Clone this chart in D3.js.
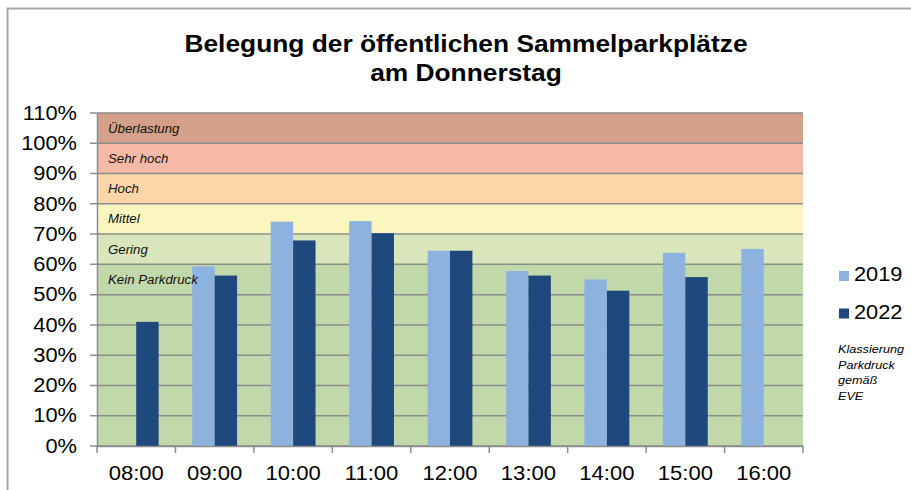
<!DOCTYPE html>
<html>
<head>
<meta charset="utf-8">
<script src="https://cdn.jsdelivr.net/npm/d3@7"></script>
<style>
  body { margin: 0; background: #fff; }
  svg { display: block; font-family: "Liberation Sans", Arial, sans-serif; }
</style>
</head>
<body>
<svg id="chart"></svg>
<script>
// DATEN
const hours = ["08:00", "09:00", "10:00", "11:00", "12:00", "13:00", "14:00", "15:00", "16:00"];
const years = ["2019", "2022"];
const values2019 = [null, 59.3, 74.1, 74.3, 64.5, 57.8, 55.0, 63.8, 65.1];
const values2022 = [41.0, 56.3, 67.9, 70.3, 64.5, 56.3, 51.3, 55.8, null];
const yTicks = [0, 10, 20, 30, 40, 50, 60, 70, 80, 90, 100, 110];
// Klassierung Parkdruck (Bereiche)
const zoneNames = ["Kein Parkdruck", "Gering", "Mittel", "Hoch", "Sehr hoch", "Überlastung"];
const zoneFrom = [0, 60, 70, 80, 90, 100];
const zoneTo = [60, 70, 80, 90, 100, 110];
const noteLines = ["Klassierung", "Parkdruck", "gemäß", "EVE"];
const titleLines = ["Belegung der öffentlichen Sammelparkplätze", "am Donnerstag"];

const width = 911;
const height = 490;
const margin = { top: 113, right: 108, bottom: 44, left: 97 };

const zoneColors = ["#c1d8ab", "#d9e6bb", "#fbf6c0", "#fcd5a8", "#f6b9a7", "#d4a089"];
const barColors = ["#8eb2de", "#1f497d"];

// Schrift im Original ist etwas breiter gezogen
function stretch(sel, k) {
  sel.each(function() {
    const w = this.getComputedTextLength();
    d3.select(this).attr("textLength", w * k).attr("lengthAdjust", "spacingAndGlyphs");
  });
}

const svg = d3.select("#chart")
  .attr("width", width)
  .attr("height", height);

// Rahmen
svg.append("path")
  .attr("d", `M7.5,${height} V8.5 H${width}`)
  .attr("fill", "none")
  .attr("stroke", "#a6a6a6")
  .attr("stroke-width", 2);

// TITEL
svg.append("g")
  .selectAll("text")
  .data(titleLines)
  .join("text")
  .attr("x", 466)
  .attr("y", (d, i) => 52 + i * 29)
  .attr("text-anchor", "middle")
  .attr("font-weight", "bold")
  .attr("font-size", 23.5)
  .attr("fill", "#000")
  .text(d => d)
  .call(stretch, 1.12);

// SKALEN
const x = d3.scaleBand()
  .domain(hours)
  .range([margin.left, width - margin.right]);

const xInner = d3.scaleBand()
  .domain(years)
  .range([0, x.bandwidth()])
  .paddingOuter(0.75)
  .paddingInner(0);

const y = d3.scaleLinear()
  .domain([0, 110])
  .range([height - margin.bottom, margin.top]);

// Bereiche Hintergrund
const zones = zoneNames.map((name, i) => ({ name, from: zoneFrom[i], to: zoneTo[i], color: zoneColors[i] }));

svg.append("g")
  .selectAll("rect")
  .data(zones)
  .join("rect")
  .attr("x", margin.left)
  .attr("width", x.range()[1] - margin.left)
  .attr("y", d => y(d.to))
  .attr("height", d => y(d.from) - y(d.to))
  .attr("fill", d => d.color);

// Gitterlinien
svg.append("g")
  .selectAll("line")
  .data(yTicks)
  .join("line")
  .attr("x1", margin.left - 7)
  .attr("x2", x.range()[1])
  .attr("y1", d => y(d))
  .attr("y2", d => y(d))
  .attr("stroke", "#8c8c8c")
  .attr("stroke-width", 1.5);

// BALKEN
const rows = hours.map((h, i) => ({ hour: h, vals: [values2019[i], values2022[i]] }));

const groups = svg.append("g")
  .selectAll("g")
  .data(rows)
  .join("g")
  .attr("transform", d => `translate(${x(d.hour)},0)`);

groups.selectAll("rect")
  .data(d => years.map((yr, j) => ({ year: yr, value: d.vals[j], color: barColors[j] })).filter(b => b.value != null))
  .join("rect")
  .attr("x", d => xInner(d.year))
  .attr("width", xInner.bandwidth())
  .attr("y", d => y(d.value))
  .attr("height", d => y(0) - y(d.value))
  .attr("fill", d => d.color);

// Bereichsbeschriftung (im obersten 10%-Streifen jedes Bereichs, über den Balken)
svg.append("g")
  .selectAll("text")
  .data(zones)
  .join("text")
  .attr("x", margin.left + 11)
  .attr("y", d => y(d.to - 5) + 4.5)
  .attr("font-size", 12.5)
  .attr("font-style", "italic")
  .attr("fill", "#111")
  .text(d => d.name)
  .call(stretch, 1.06);

// ACHSEN
const yAxis = svg.append("g")
  .attr("transform", `translate(${margin.left},0)`)
  .call(d3.axisLeft(y).tickValues(yTicks).tickFormat(d => d + "%").tickSize(0).tickPadding(20));
yAxis.select(".domain").attr("stroke", "#8c8c8c").attr("stroke-width", 1.5);
yAxis.selectAll("text")
  .attr("font-size", 19.5)
  .attr("font-family", "Liberation Sans, Arial, sans-serif")
  .attr("fill", "#000")
  .call(stretch, 1.12);

const xAxis = svg.append("g")
  .attr("transform", `translate(0,${y(0)})`)
  .call(d3.axisBottom(x).tickSize(0).tickPadding(20));
xAxis.select(".domain").attr("stroke", "#8c8c8c").attr("stroke-width", 1.5);
xAxis.selectAll("text")
  .attr("font-size", 19.5)
  .attr("font-family", "Liberation Sans, Arial, sans-serif")
  .attr("fill", "#000")
  .call(stretch, 1.13);

// Teilstriche zwischen den Kategorien
const boundaries = hours.map(h => x(h)).concat([x.range()[1]]);
xAxis.selectAll(".sep")
  .data(boundaries)
  .join("line")
  .attr("class", "sep")
  .attr("x1", d => d)
  .attr("x2", d => d)
  .attr("y1", 0)
  .attr("y2", 7)
  .attr("stroke", "#8c8c8c")
  .attr("stroke-width", 1.5);

// LEGENDE
const legend = svg.append("g")
  .selectAll("g")
  .data(years)
  .join("g")
  .attr("transform", (d, i) => `translate(839,${271 + i * 37.5})`);
legend.append("rect")
  .attr("width", 10)
  .attr("height", 10)
  .attr("fill", (d, i) => barColors[i]);
legend.append("text")
  .attr("x", 15)
  .attr("y", 10)
  .attr("font-size", 20)
  .attr("fill", "#000")
  .text(d => d)
  .call(stretch, 1.09);

// Hinweis
svg.append("g")
  .selectAll("text")
  .data(noteLines)
  .join("text")
  .attr("x", 838)
  .attr("y", (d, i) => 353 + i * 15.5)
  .attr("font-size", 11.5)
  .attr("font-style", "italic")
  .attr("fill", "#000")
  .text(d => d)
  .call(stretch, 1.1);
</script>
</body>
</html>
